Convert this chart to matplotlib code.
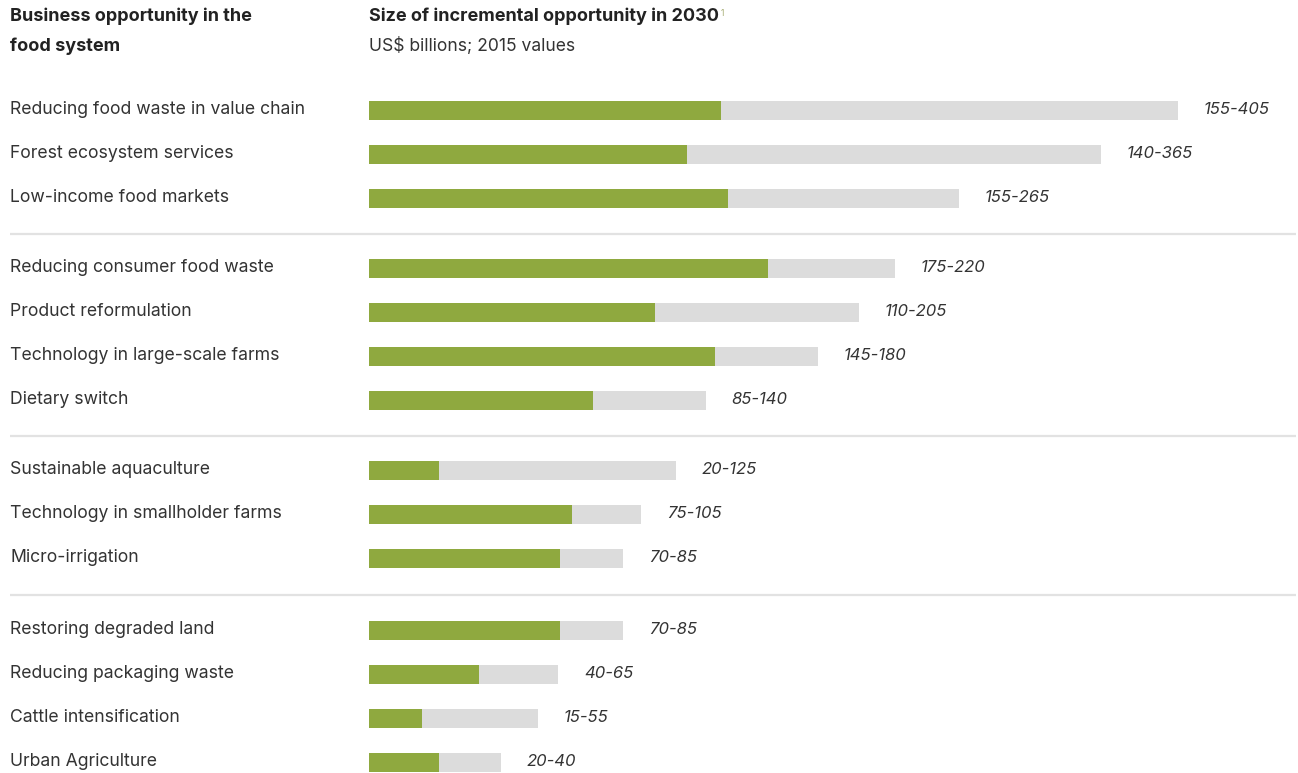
import matplotlib.pyplot as plt
import numpy as np

# Rows of the chart, top to bottom, split into four groups
categories = [
    'Reducing food waste in value chain', 'Forest ecosystem services', 'Low-income food markets',
    'Reducing consumer food waste', 'Product reformulation', 'Technology in large-scale farms', 'Dietary switch',
    'Sustainable aquaculture', 'Technology in smallholder farms', 'Micro-irrigation',
    'Restoring degraded land', 'Reducing packaging waste', 'Cattle intensification', 'Urban Agriculture',
]
groups = [0, 0, 0, 1, 1, 1, 1, 2, 2, 2, 3, 3, 3, 3]
range_labels = ['155-405', '140-365', '155-265', '175-220', '110-205', '145-180', '85-140',
                '20-125', '75-105', '70-85', '70-85', '40-65', '15-55', '20-40']
# drawn bar extents (low end = green, high end = grey)
bar_low = [176, 159, 179.5, 199.5, 143, 173, 112, 35, 101.5, 95.5, 95.5, 55, 26.5, 35]
bar_high = [404.5, 366, 295, 263, 245, 224.5, 168.5, 153.5, 136, 127, 127, 94.5, 84.5, 66]

GREEN = '#8fa93f'
GREY = '#dcdcdc'
TEXT = '#333333'
W, H = 1298, 773

plt.rcParams['font.family'] = ['Inter', 'DejaVu Sans']

fig = plt.figure(figsize=(W / 100, H / 100), dpi=100)
bg = fig.add_axes([0, 0, 1, 1])
bg.set_xlim(0, W)
bg.set_ylim(H, 0)
bg.axis('off')

x0 = 369
ax = fig.add_axes([x0 / W, 0, (W - x0) / W, 1])
ax.set_xlim(0, (W - x0) / 2)
ax.set_ylim(H, 0)
ax.axis('off')

rows = np.arange(len(categories))
g = np.array(groups)
ypos = 110.5 + 44 * rows + 26 * g + 2 * (g == 3)

ax.barh(ypos, bar_high, height=19, color=GREY, linewidth=0)
ax.barh(ypos, bar_low, height=19, color=GREEN, linewidth=0)

for y, name, lab, hi in zip(ypos, categories, range_labels, bar_high):
    bg.text(10, y - 1, name, fontsize=12.7, color=TEXT, va='center', ha='left')
    ax.text(hi + 13, y - 1, lab, fontsize=12, color=TEXT, va='center', ha='left', style='italic')

# separators between groups
for k in range(1, 4):
    last = ypos[g == k - 1].max()
    first = ypos[g == k].min()
    sep = (last + first) / 2
    bg.plot([10, 1296], [sep, sep], color='#e2e2e2', lw=1.6, solid_capstyle='butt')

# headers
bg.text(10, 16, 'Business opportunity in the', fontsize=13, fontweight='bold', color='#222222', va='center')
bg.text(10, 46, 'food system', fontsize=13, fontweight='bold', color='#222222', va='center')
t = bg.text(x0, 16, 'Size of incremental opportunity in 2030', fontsize=13, fontweight='bold',
            color='#222222', va='center')
bg.annotate('1', xy=(1, 1), xycoords=t, xytext=(1.5, -1), textcoords='offset points',
            fontsize=6, color='#a0a86a', va='top', ha='left')
bg.text(x0, 46, 'US$ billions; 2015 values', fontsize=12.6, color=TEXT, va='center')

fig.savefig('out.png', dpi=100, facecolor='white')
